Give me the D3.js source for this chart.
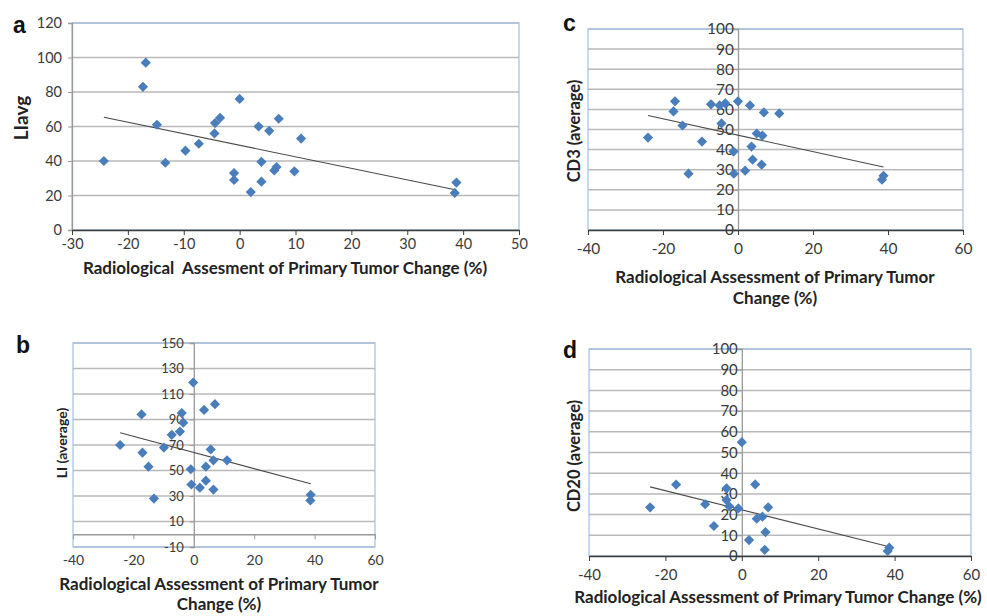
<!DOCTYPE html>
<html>
<head>
<meta charset="utf-8">
<script src="https://cdn.jsdelivr.net/npm/d3@7/dist/d3.min.js"></script>
<style>
  body { margin: 0; background: #fff; }
  svg { display: block; }
</style>
</head>
<body>
<svg id="chart" width="987" height="616"></svg>
<script>
// panel a: LIavg
const aX = [-24.3, -16.8, -17.3, -14.8, -13.3, -9.7, -7.3, -4.5, -4.4, -3.5, -1.0, -1.0, 0.0, 2.0, 3.4, 3.9, 3.9, 5.3, 7.0, 6.2, 6.6, 9.8, 11.0, 38.8, 38.5]
const aY = [40, 97, 83, 61, 39, 46, 50, 56, 62, 65, 33, 29, 76, 22, 60, 39.5, 28, 57.5, 64.5, 34.5, 36.5, 34, 53, 27.5, 21.5]
const aXTicks = [-30, -20, -10, 0, 10, 20, 30, 40, 50]
const aYTicks = [0, 20, 40, 60, 80, 100, 120]

// panel b: LI (average)
const bX = [-24.4, -17.3, -17, -15, -13.2, -9.9, -7.3, -4.6, -4, -3.5, -0.2, -1, -0.8, 2, 3.4, 7, 5.6, 4, 4, 6.5, 6.5, 11, 38.7, 38.6]
const bY = [70, 94, 64, 53, 28, 68, 78, 80.5, 95, 87.5, 119, 51, 39, 36.5, 97.5, 102, 66.5, 53, 42, 58, 35, 58, 31, 26.5]
const bXTicks = [-40, -20, 0, 20, 40, 60]
const bYTicks = [-10, 10, 30, 50, 70, 90, 110, 130, 150]

// panel c: CD3 (average)
const cX = [-24, -16.8, -17.2, -14.8, -13.2, -9.6, -7.2, -4.9, -3.4, -4.4, -1.2, -1.1, 0, 1.9, 3.2, 3.6, 3.9, 5, 6.5, 6.9, 11, 6.3, 38.8, 38.4]
const cY = [46, 64, 59, 52, 28, 44, 62.5, 62, 63, 53, 39, 28, 64, 29.5, 62, 41.5, 35, 48, 47, 58.5, 58, 32.5, 27, 25]
const cXTicks = [-40, -20, 0, 20, 40, 60]
const cYTicks = [0, 10, 20, 30, 40, 50, 60, 70, 80, 90, 100]

// panel d: CD20 (average)
const dX = [-24, -17.2, -9.6, -7.3, -4, -4, -3.3, -0.9, 0, 1.9, 3.5, 3.9, 5.4, 6.9, 6.2, 6, 38.6, 38.2]
const dY = [23.5, 34.5, 25, 14.5, 32.7, 27, 24, 23, 55, 7.7, 34.6, 18, 19, 23.5, 11.5, 3, 4, 2.4]
const dXTicks = [-40, -20, 0, 20, 40, 60]
const dYTicks = [0, 10, 20, 30, 40, 50, 60, 70, 80, 90, 100]

const svg = d3.select("#chart")

const markerColor = "#4a7ebb"
const gridColor = "#b9b9b9"
const borderColor = "#9fc2e6"
const textColor = "#3a3a3a"
const fontFamily = "Lato, 'Open Sans', sans-serif"

// plain hyphen minus like the original spreadsheet labels
const plainNum = (d) => String(d)

const fitLine = (xs, ys) => {
    const mx = d3.mean(xs)
    const my = d3.mean(ys)
    let num = 0
    let den = 0
    xs.forEach((v, i) => {
        num += (v - mx) * (ys[i] - my)
        den += (v - mx) * (v - mx)
    })
    const slope = num / den
    return (v) => my + slope * (v - mx)
}

const drawPanel = (p) => {
    const x = d3.scaleLinear().domain(d3.extent(p.xTicks)).range([p.left, p.right])
    const y = d3.scaleLinear().domain(d3.extent(p.yTicks)).range([p.bottom, p.top])
    const g = svg.append("g")

    // horizontal gridlines
    g.append("g")
        .selectAll("line")
        .data(p.yTicks)
        .join("line")
        .attr("x1", p.left)
        .attr("x2", p.right)
        .attr("y1", (d) => y(d))
        .attr("y2", (d) => y(d))
        .attr("stroke", gridColor)
        .attr("stroke-width", 1.5)

    // plot area border
    g.append("rect")
        .attr("x", p.left)
        .attr("y", p.top)
        .attr("width", p.right - p.left)
        .attr("height", p.bottom - p.top)
        .attr("fill", "none")
        .attr("stroke", borderColor)
        .attr("stroke-width", 1.2)

    // vertical axis
    const yAxis = g.append("g")
        .attr("transform", `translate(${x(p.yAxisAt)},0)`)
        .call(d3.axisLeft(y).tickValues(p.yTicks).tickFormat(plainNum).tickSize(4).tickPadding(p.yPad))
    yAxis.select(".domain").attr("stroke", "#9a9a9a").attr("stroke-width", 1.3)
    yAxis.selectAll(".tick line").attr("stroke", "#9a9a9a")
    yAxis.selectAll("text")
        .attr("fill", textColor)
        .attr("font-family", fontFamily)
        .attr("font-size", p.yFont)

    // horizontal axis
    const axisY = y(p.xAxisAt)
    const xAxis = g.append("g")
        .attr("transform", `translate(0,${axisY})`)
        .call(d3.axisBottom(x).tickValues(p.xTicks).tickFormat(plainNum).tickSize(5).tickSizeOuter(0))
    xAxis.select(".domain").attr("stroke", p.xAxisColor).attr("stroke-width", 1.4)
    xAxis.selectAll(".tick line").attr("stroke", p.xAxisColor)
    xAxis.selectAll("text")
        .attr("fill", textColor)
        .attr("font-family", fontFamily)
        .attr("font-size", p.xFont)
        .attr("y", p.xLabelY - axisY)
        .attr("dy", "0.35em")

    // trend line
    const f = fitLine(p.xs, p.ys)
    const [x0, x1] = d3.extent(p.xs)
    g.append("line")
        .attr("x1", x(x0))
        .attr("y1", y(f(x0)))
        .attr("x2", x(x1))
        .attr("y2", y(f(x1)))
        .attr("stroke", "#4a4a4a")
        .attr("stroke-width", 1.1)

    // diamonds
    g.append("g")
        .selectAll("path")
        .data(p.xs.map((v, i) => [v, p.ys[i]]))
        .join("path")
        .attr("d", d3.symbol(d3.symbolSquare, 52))
        .attr("transform", (d) => `translate(${x(d[0])},${y(d[1])}) rotate(45)`)
        .attr("fill", markerColor)

    // y title
    g.append("text")
        .attr("transform", `translate(${p.yTitleX},${p.yTitleY}) rotate(-90)`)
        .attr("text-anchor", "middle")
        .attr("dy", "0.35em")
        .attr("font-family", fontFamily)
        .attr("font-weight", "bold")
        .attr("font-size", p.yTitleFont)
        .attr("fill", "#222")
        .text(p.yTitle)

    // x title
    p.xTitle.forEach((line, i) => {
        g.append("text")
            .attr("x", p.xTitleX)
            .attr("y", p.xTitleY + i * p.lineGap)
            .attr("text-anchor", "middle")
            .attr("dy", "0.35em")
            .attr("font-family", fontFamily)
            .attr("font-weight", "bold")
            .attr("font-size", p.xTitleFont)
            .attr("fill", "#222")
            .style("white-space", "pre")
            .text(line)
    })

    // panel letter
    g.append("text")
        .attr("x", p.letterX)
        .attr("y", p.letterY)
        .attr("font-family", "'Liberation Sans', Arial, sans-serif")
        .attr("font-weight", "bold")
        .attr("font-size", 23)
        .attr("fill", "#111")
        .text(p.letter)
}

drawPanel({
    letter: "a", letterX: 13, letterY: 33,
    xs: aX, ys: aY, xTicks: aXTicks, yTicks: aYTicks,
    left: 72, right: 519, top: 23, bottom: 230,
    yAxisAt: -30, xAxisAt: 0, xAxisColor: "#3c3c3c",
    yPad: 6, yFont: 14.5, xFont: 14.5, xLabelY: 244,
    yTitle: "LIavg", yTitleX: 21, yTitleY: 118, yTitleFont: 19,
    xTitle: ["Radiological  Assesment of Primary Tumor Change (%)"],
    xTitleX: 285, xTitleY: 268, xTitleFont: 17, lineGap: 21
})

drawPanel({
    letter: "b", letterX: 16, letterY: 353,
    xs: bX, ys: bY, xTicks: bXTicks, yTicks: bYTicks,
    left: 73, right: 375, top: 343, bottom: 547,
    yAxisAt: 0, xAxisAt: 0, xAxisColor: "#9a9a9a",
    yPad: 6, yFont: 13, xFont: 14, xLabelY: 560,
    yTitle: "LI (average)", yTitleX: 62, yTitleY: 443, yTitleFont: 14,
    xTitle: ["Radiological Assessment of Primary Tumor", "Change (%)"],
    xTitleX: 219, xTitleY: 584, xTitleFont: 17, lineGap: 20
})

drawPanel({
    letter: "c", letterX: 563, letterY: 31,
    xs: cX, ys: cY, xTicks: cXTicks, yTicks: cYTicks,
    left: 588, right: 963, top: 29, bottom: 230,
    yAxisAt: 0, xAxisAt: 0, xAxisColor: "#3c3c3c",
    yPad: 0, yFont: 15.5, xFont: 15.5, xLabelY: 249,
    yTitle: "CD3 (average)", yTitleX: 574, yTitleY: 131, yTitleFont: 16.5,
    xTitle: ["Radiological Assessment of Primary Tumor", "Change (%)"],
    xTitleX: 775, xTitleY: 277, xTitleFont: 17, lineGap: 21
})

drawPanel({
    letter: "d", letterX: 563, letterY: 358,
    xs: dX, ys: dY, xTicks: dXTicks, yTicks: dYTicks,
    left: 589, right: 971, top: 349, bottom: 556,
    yAxisAt: 0, xAxisAt: 0, xAxisColor: "#3c3c3c",
    yPad: 0, yFont: 15, xFont: 15, xLabelY: 575,
    yTitle: "CD20 (average)", yTitleX: 574, yTitleY: 456, yTitleFont: 16.5,
    xTitle: ["Radiological Assessment of Primary Tumor Change (%)"],
    xTitleX: 778, xTitleY: 597, xTitleFont: 17, lineGap: 21
})
</script>
</body>
</html>
